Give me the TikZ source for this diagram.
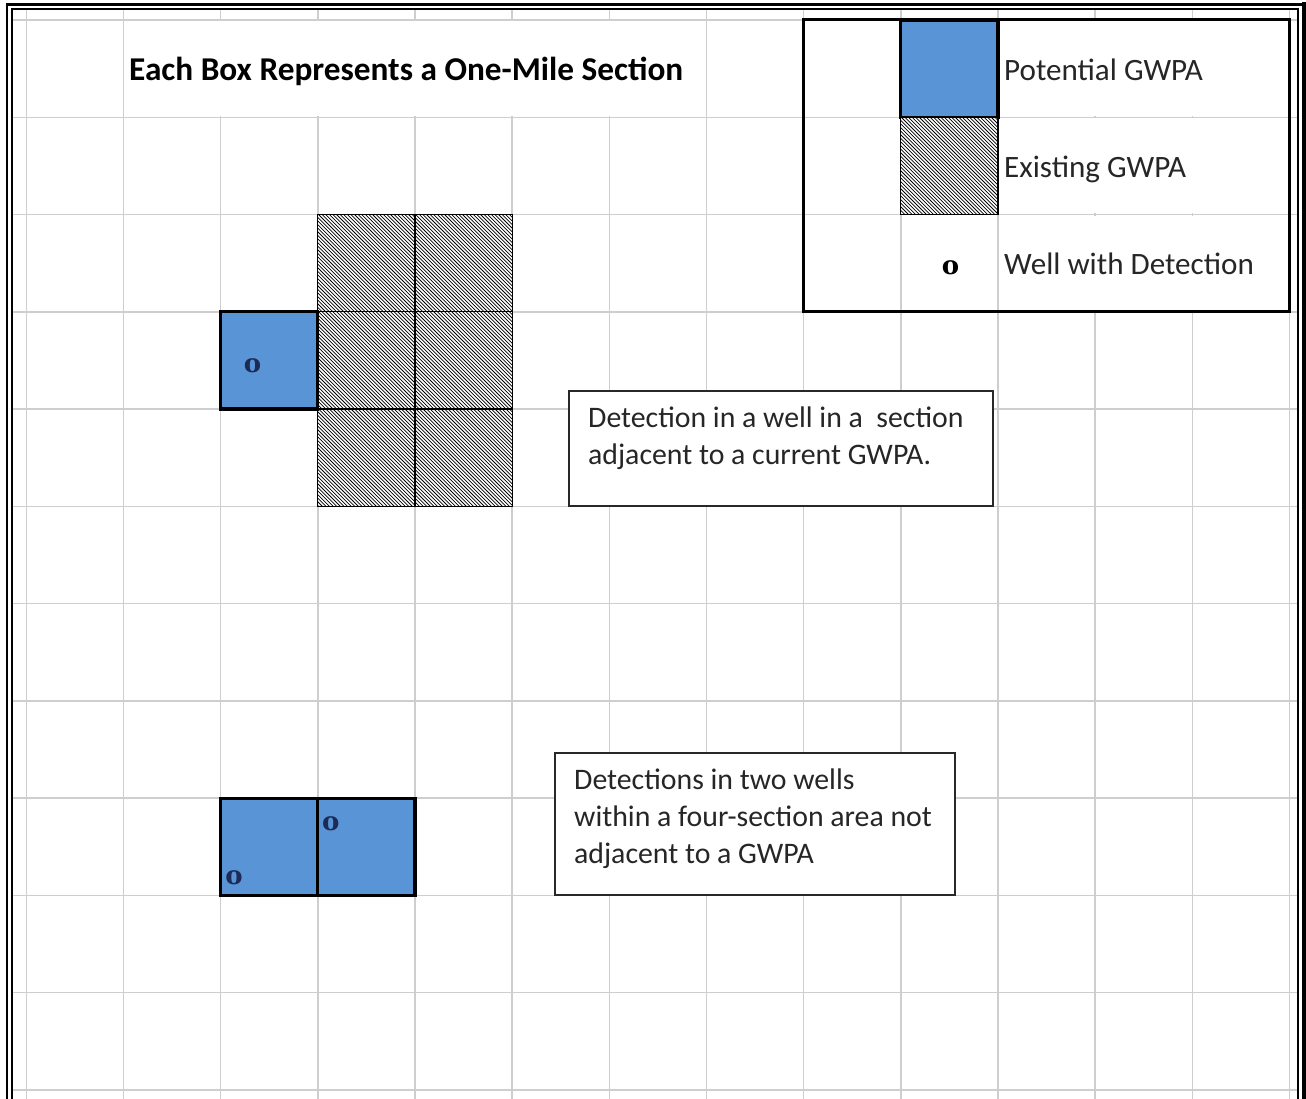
\documentclass[tikz,border=0pt]{standalone}
\usepackage{fontspec}
\setmainfont{Carlito}
\newfontfamily\wellfont{DejaVu Serif}
\definecolor{gridgray}{RGB}{206,206,206}
\definecolor{gwpablue}{RGB}{88,148,214}
\definecolor{wellnavy}{RGB}{28,42,84}
\definecolor{boxline}{RGB}{40,40,40}
\definecolor{textgray}{RGB}{38,38,38}
\begin{document}
\begin{tikzpicture}[x=1pt,y=-1pt,
  gridline/.style={draw=gridgray,line width=1.4pt},
  thickcell/.style={draw=black,line width=3.2pt},
  thincell/.style={draw=black,line width=1.3pt},
  hatchline/.style={draw=black,line width=0.75pt},
  potential/.style={fill=gwpablue},
  legendframe/.style={draw=black,line width=3pt},
  tbox/.style={draw=boxline,line width=1.8pt,fill=white,inner sep=0pt},
  body/.style={font=\fontsize{29.8}{37}\selectfont,align=left,inner sep=0pt,text=textgray},
  legtext/.style={font=\fontsize{31.1}{37}\selectfont,anchor=base west,inner sep=0pt,text=textgray},
  titletext/.style={font=\bfseries\fontsize{33.3}{40}\selectfont,anchor=base west,inner sep=0pt,text=black},
  wellmark/.style={font=\wellfont\bfseries\fontsize{26}{26}\selectfont,inner sep=0pt,text=black}]
\clip (0,0) rectangle (1306,1099);
\fill[white] (0,0) rectangle (1306,1099);
% grid coordinates
\foreach \i in {0,...,13}{
  \foreach \j in {0,...,11}{
    \coordinate (g\i-\j) at ({26.3+97.17*\i},{20+97.27*\j});
  }
}
% grid lines
\foreach \i in {0,...,13}
  \draw[gridline] ({26.3+97.17*\i},9) -- ({26.3+97.17*\i},1099);
\foreach \j in {0,...,11}
  \draw[gridline] (12,{20+97.27*\j}) -- (1297.5,{20+97.27*\j});
% gridlines hidden behind overflowing text
\fill[white] ([shift={(1.2,1.2)}]g1-0) rectangle ([shift={(-1.2,-1.2)}]g7-1);
\foreach \r/\s in {0/1,1/2,2/3}
  \fill[white] ([shift={(1.2,1.2)}]g10-\r) rectangle ([shift={(-1.2,-1.2)}]g13-\s);
% frame
\draw[line width=2.2pt] (7,1110) -- (7,4.5) -- (1302,4.5);
\draw[line width=4pt] (1304,2.5) -- (1304,1110);
\draw[line width=2pt] (12,1110) -- (12,9) -- (1297.5,9) -- (1297.5,1110);
% existing GWPA block (hatched)
\fill[white] (g3-2) rectangle (g5-5);
\begin{scope}
  \clip (g3-2) rectangle (g5-5);
  \foreach \k in {-90,...,60}
    \draw[hatchline] ({318+3.6*\k},214) -- ({318+3.6*\k+300},514);
\end{scope}
\draw[thincell] (g3-2) rectangle (g5-5) (g4-2) -- (g4-5) (g3-3) -- (g5-3) (g3-4) -- (g5-4);
% potential GWPA, adjacent
\path[potential,thickcell] (g2-3) rectangle (g3-4);
% potential GWPA, two sections
\path[potential,thickcell] (g2-8) rectangle (g4-9);
\draw[thickcell] (g3-8) -- (g3-9);
% legend
\path[potential,thickcell] (g9-0) rectangle (g10-1);
\fill[white] (g9-1) rectangle (g10-2);
\begin{scope}
  \clip (g9-1) rectangle (g10-2);
  \foreach \k in {-30,...,30}
    \draw[hatchline] ({901+3.6*\k},117) -- ({901+3.6*\k+100},217);
\end{scope}
\draw[thincell] (g9-1) rectangle (g10-2);
\draw[legendframe] (g8-0) rectangle (g13-3);
% texts
\node[titletext] (title) at (129,81) {Each Box Represents a One-Mile Section};
\node[legtext] (lp) at (1004,81) {Potential GWPA};
\node[legtext] (le) at (1004,178) {Existing GWPA};
\node[legtext] (lw) at (1004,275) {Well with Detection};
\node[wellmark] (lo) at (950.5,267.5) {o};
\node[wellmark,text=wellnavy] (w1) at (252.5,365.5) {o};
\node[wellmark,text=wellnavy] (w2) at (234,878) {o};
\node[wellmark,text=wellnavy] (w3) at (330.7,823.5) {o};
% text boxes
\node[tbox,minimum width=424,minimum height=115,anchor=north west] (box1) at (568,390) {};
\node[body,anchor=base west] (t1) at (588,464) {Detection in a well in a\ \ section\\adjacent to a current GWPA.};
\node[tbox,minimum width=400,minimum height=142,anchor=north west] (box2) at (554,752) {};
\node[body,anchor=base west] (t2) at (574,863) {Detections in two wells\\within a four-section area not\\adjacent to a GWPA};
\end{tikzpicture}
\end{document}
